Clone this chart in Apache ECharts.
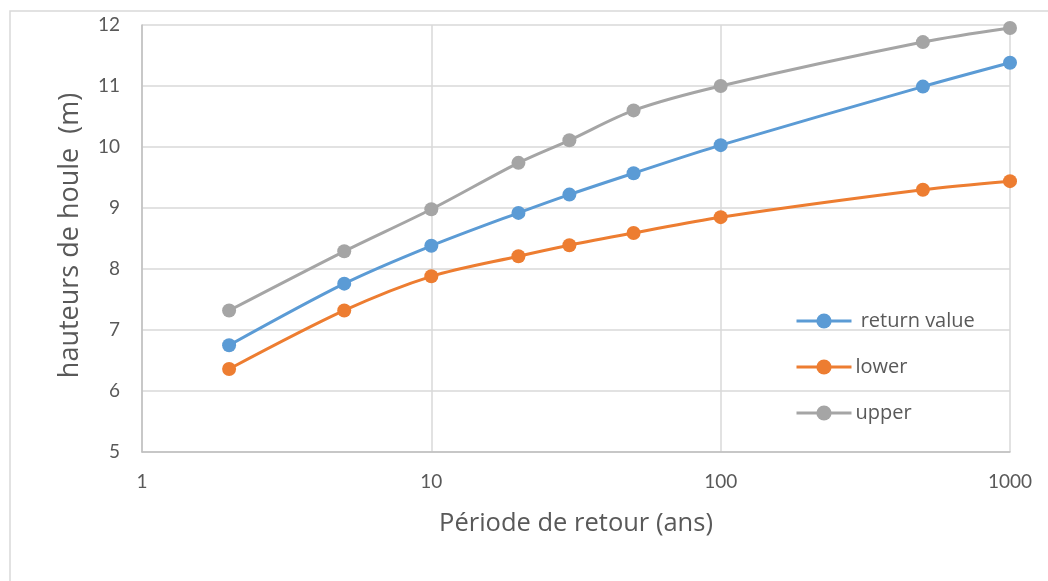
<!DOCTYPE html>
<html><head><meta charset="utf-8">
<script src="https://cdn.jsdelivr.net/npm/echarts@6/dist/echarts.min.js"></script>
<style>html,body{margin:0;padding:0;background:#fff}#c{width:1048px;height:581px}</style>
</head><body><div id="c"></div>
<script>
const periods = [2, 5, 10, 20, 30, 50, 100, 500, 1000];
const returnValue = [6.75, 7.76, 8.38, 8.92, 9.22, 9.57, 10.03, 10.99, 11.38];
const lower = [6.36, 7.32, 7.88, 8.21, 8.39, 8.59, 8.85, 9.30, 9.44];
const upper = [7.32, 8.29, 8.98, 9.74, 10.11, 10.60, 11.00, 11.72, 11.95];
const yTicks = [5, 6, 7, 8, 9, 10, 11, 12];
const xTicks = [1, 10, 100, 1000];
const seriesNames = ['return value', 'lower', 'upper'];
const colors = ['#5b9bd5', '#ed7d31', '#a5a5a5'];
const font = 'Lato, "Open Sans", sans-serif';
const titleFont = '"Open Sans", Lato, sans-serif';

const chart = echarts.init(document.getElementById('c'));
const mk = (name, vals, color) => ({
  name, type: 'line', smooth: 0.3,
  data: periods.map((p, i) => [p, vals[i]]),
  symbol: 'circle', symbolSize: 14,
  lineStyle: { color, width: 3 },
  itemStyle: { color },
  emphasis: { disabled: true }
});
chart.setOption({
  animation: false,
  textStyle: { fontFamily: font },
  graphic: [{ type: 'rect', shape: { x: 10, y: 11, width: 1200, height: 700 }, style: { fill: 'none', stroke: '#d9d9d9', lineWidth: 1.5 }, silent: true, z: -1 }],
  grid: { left: 142, right: 38, top: 25, bottom: 129 },
  legend: {
    orient: 'vertical', left: 790, top: 306, itemGap: 26,
    itemWidth: 55, itemHeight: 19,
    formatter: n => (n === seriesNames[0] ? ' ' + n : n),
    textStyle: { color: '#595959', fontSize: 20, fontFamily: titleFont, padding: [0, 0, 0, -1] },
    data: seriesNames.map(n => ({ name: n, lineStyle: { width: 3 } }))
  },
  xAxis: {
    type: 'log', logBase: 10, min: xTicks[0], max: xTicks[xTicks.length - 1],
    name: 'Période de retour (ans)', nameLocation: 'middle', nameGap: 59,
    nameTextStyle: { color: '#595959', fontSize: 25.5, fontFamily: titleFont },
    axisLine: { show: true, lineStyle: { color: '#bfbfbf', width: 1.5 } },
    axisTick: { show: false },
    axisLabel: { color: '#595959', fontSize: 19, margin: 20, fontFamily: font, formatter: v => String(Math.round(v)) },
    splitLine: { show: true, lineStyle: { color: '#d9d9d9', width: 1.5 } },
    minorTick: { show: false }
  },
  yAxis: {
    type: 'value', min: yTicks[0], max: yTicks[yTicks.length - 1], interval: 1,
    name: 'hauteurs de houle  (m)', nameLocation: 'middle', nameGap: 58,
    nameTextStyle: { color: '#595959', fontSize: 27, fontFamily: titleFont, padding: [0, 0, 0, 6] },
    axisLine: { show: true, lineStyle: { color: '#bfbfbf', width: 1.5 } },
    axisTick: { show: false },
    axisLabel: { color: '#595959', fontSize: 19, margin: 22, fontFamily: font },
    splitLine: { show: true, lineStyle: { color: '#d9d9d9', width: 1.5 } }
  },
  series: [mk(seriesNames[0], returnValue, colors[0]), mk(seriesNames[1], lower, colors[1]), mk(seriesNames[2], upper, colors[2])]
});
</script></body></html>
